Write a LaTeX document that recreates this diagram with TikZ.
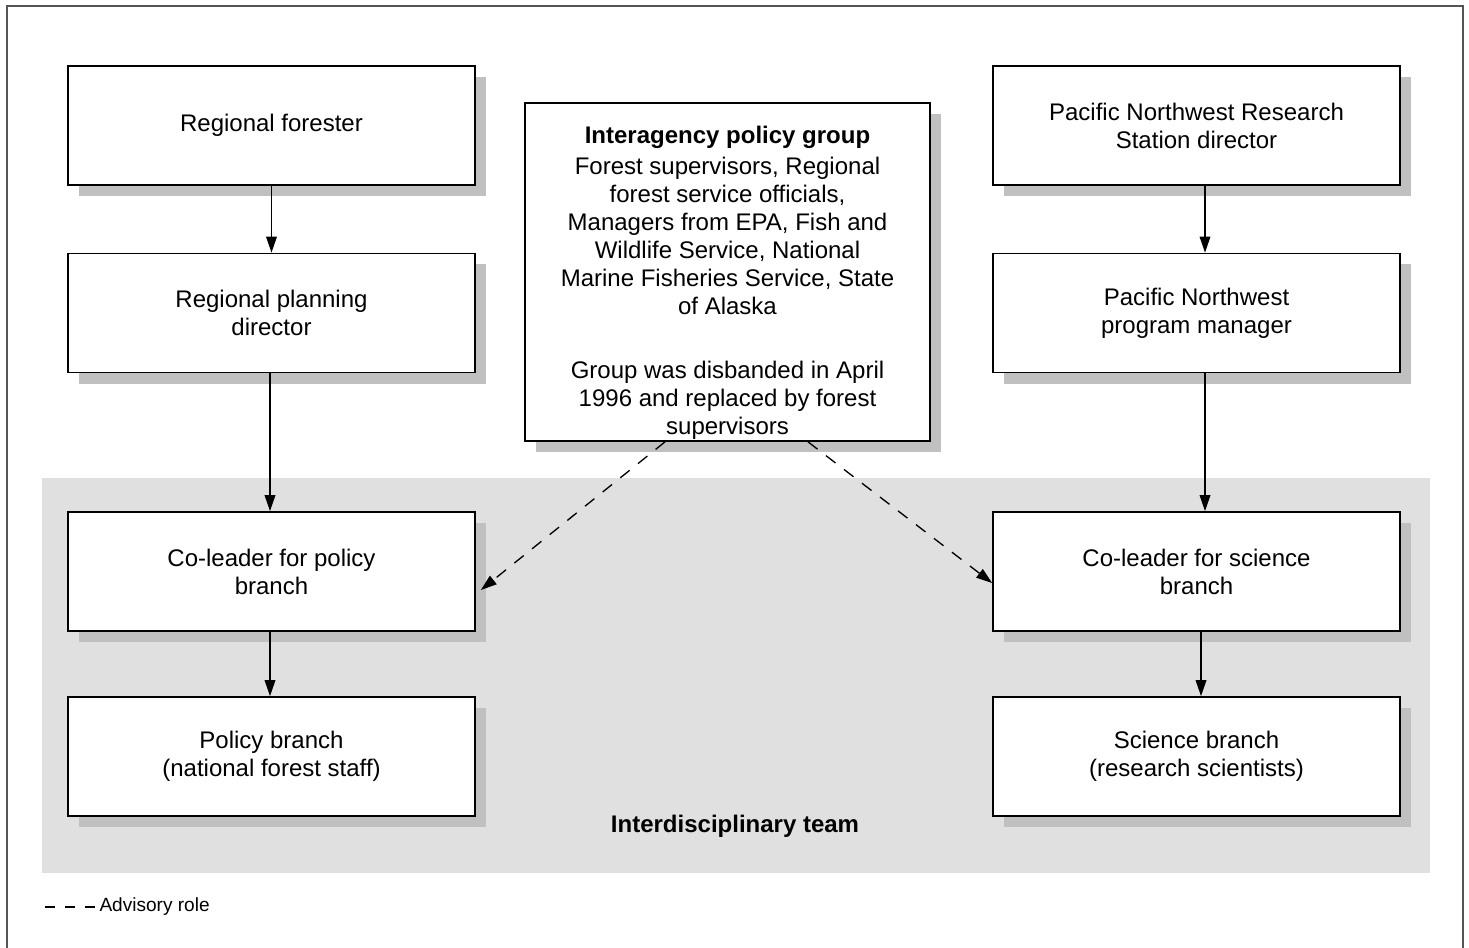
\documentclass[tikz,border=0pt]{standalone}
\usepackage{fontspec}
\setmainfont{Liberation Sans}
\usetikzlibrary{arrows.meta,calc}

\definecolor{teamgray}{RGB}{224,224,224}
\definecolor{shadowgray}{RGB}{192,192,192}
\definecolor{framegray}{RGB}{85,85,85}

\tikzset{every picture/.style={line width=0.75pt}}
\tikzset{
  orgbox/.style={draw=black, line width=1.3pt, fill=white, align=center,
    minimum width=305.25pt, minimum height=89.25pt, inner sep=0.75pt,
    font=\fontsize{18}{21}\selectfont,
    preaction={fill=shadowgray, transform canvas={xshift=8.25pt,yshift=-8.25pt}}},
  solidarrow/.style={line width=1pt, -{Triangle[length=12pt,width=8pt]}},
  advisory/.style={line width=1pt, dash pattern=on 9pt off 8pt, -{Triangle[length=12pt,width=8pt]}},
  legendtext/.style={inner sep=0pt, font=\fontsize{14.3}{17}\selectfont},
}

\begin{document}
\begin{tikzpicture}[x=0.75pt,y=0.75pt,yscale=-1,xscale=1]
\useasboundingbox (0,0) rectangle (1469,948);

%Shape: Frame
\draw [framegray, line width=1.5pt] (6.5,960) -- (6.5,6) -- (1463,6) -- (1463,960) ;
%Shape: Rectangle (team area)
\fill [teamgray] (42,478) rectangle (1430,873) ;

% Policy side
\node [orgbox] (forester) at (271.5,125.5) {Regional forester};
\node [orgbox] (planning) at (271.5,313) {Regional planning\\director};
\node [orgbox] (policyco) at (271.5,571.5) {Co-leader for policy\\branch};
\node [orgbox] (policybranch) at (271.5,756.5) {Policy branch\\(national forest staff)};

% Science side
\node [orgbox] (stationdir) at (1196.5,125.5) {Pacific Northwest Research\\Station director};
\node [orgbox] (pnwmanager) at (1196.5,313) {Pacific Northwest\\program manager};
\node [orgbox] (scienceco) at (1196.5,571.5) {Co-leader for science\\branch};
\node [orgbox] (sciencebranch) at (1196.5,756.5) {Science branch\\(research scientists)};

% Interagency group
\node [orgbox, minimum width=303.75pt, minimum height=253.5pt] (policygroup) at (727.5,272) {\rule{0pt}{29.5pt}\textbf{Interagency policy group}\\[2.25pt]
Forest supervisors, Regional\\
forest service officials,\\
Managers from EPA, Fish and\\
Wildlife Service, National\\
Marine Fisheries Service, State\\
of Alaska\\[27pt]
Group was disbanded in April\\
1996 and replaced by forest\\
supervisors};

%Straight Lines
\draw [solidarrow] (forester) -- (planning) ;
\draw [solidarrow] ($(planning.south)+(-1.5,0)$) -- ($(policyco.north)+(-1.5,0)$) ;
\draw [solidarrow] ($(policyco.south)+(-1.5,0)$) -- ($(policybranch.north)+(-1.5,0)$) ;
\draw [solidarrow] ($(stationdir.south)+(8.5,0)$) -- ($(pnwmanager.north)+(8.5,0)$) ;
\draw [solidarrow] ($(pnwmanager.south)+(8.5,0)$) -- ($(scienceco.north)+(8.5,0)$) ;
\draw [solidarrow] ($(scienceco.south)+(4.5,0)$) -- ($(sciencebranch.north)+(4.5,0)$) ;

%Dashed Lines
\draw [advisory] ($(policygroup.south)+(-62.5,0)$) -- ($(policyco.east)+(5,18.5)$) ;
\draw [advisory] ($(policygroup.south)+(80.5,0)$) -- ($(scienceco.west)+(0,11.5)$) ;

% Text Node
\node [font=\fontsize{18}{21}\selectfont\bfseries, inner sep=0.75pt] (teamlabel) at (735,826) {Interdisciplinary team};

% Legend
\coordinate (legstart) at (45,907);
\node [legendtext, anchor=west] (legend) at (99,907) {Advisory role};
\draw [line width=1pt, dash pattern=on 7.5pt off 7.5pt] (legstart) -- ($(legend.west)+(-4,0)$) ;

\end{tikzpicture}
\end{document}
